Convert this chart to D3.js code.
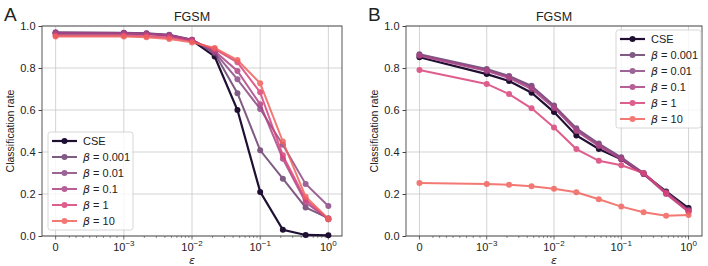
<!DOCTYPE html>
<html>
<head>
<meta charset="utf-8">
<script src="https://d3js.org/d3.v7.min.js"></script>
<style>
  body { margin: 0; background: #fff; }
  text { font-family: "Liberation Sans", Arial, sans-serif; fill: #222; }
</style>
</head>
<body>
<script>
// epsilon grid (0 then logspace 1e-3 .. 1, three per decade)
var eps = [0, 0.001, 0.00215, 0.00464, 0.01, 0.0215, 0.0464, 0.1, 0.215, 0.464, 1];
var seriesNames = ["CSE", "0.001", "0.01", "0.1", "1", "10"];
var colors = ["#1e0f33", "#6b3f6f", "#8c4a86", "#ad4485", "#d9437a", "#f0625c"];

// panel A
var rateA_cse   = [0.965, 0.965, 0.963, 0.955, 0.932, 0.855, 0.600, 0.210, 0.030, 0.005, 0.003];
var rateA_b0001 = [0.970, 0.968, 0.965, 0.958, 0.935, 0.870, 0.680, 0.408, 0.273, 0.136, 0.085];
var rateA_b001  = [0.968, 0.967, 0.964, 0.957, 0.935, 0.875, 0.746, 0.605, 0.435, 0.248, 0.143];
var rateA_b01   = [0.965, 0.964, 0.962, 0.955, 0.933, 0.880, 0.786, 0.627, 0.368, 0.160, 0.080];
var rateA_b1    = [0.955, 0.955, 0.952, 0.945, 0.928, 0.890, 0.827, 0.684, 0.384, 0.174, 0.080];
var rateA_b10   = [0.950, 0.950, 0.946, 0.938, 0.922, 0.895, 0.838, 0.727, 0.450, 0.187, 0.082];

// panel B
var rateB_cse   = [0.851, 0.771, 0.738, 0.682, 0.590, 0.479, 0.414, 0.365, 0.295, 0.212, 0.133];
var rateB_b0001 = [0.865, 0.795, 0.762, 0.715, 0.622, 0.513, 0.440, 0.375, 0.300, 0.210, 0.125];
var rateB_b001  = [0.862, 0.790, 0.758, 0.708, 0.618, 0.506, 0.433, 0.370, 0.297, 0.205, 0.120];
var rateB_b01   = [0.858, 0.786, 0.752, 0.700, 0.610, 0.500, 0.428, 0.365, 0.295, 0.200, 0.115];
var rateB_b1    = [0.790, 0.724, 0.676, 0.608, 0.517, 0.414, 0.358, 0.337, 0.300, 0.205, 0.118];
var rateB_b10   = [0.252, 0.248, 0.244, 0.237, 0.225, 0.208, 0.175, 0.140, 0.113, 0.096, 0.100];

var yTicks = [0, 0.2, 0.4, 0.6, 0.8, 1.0];
var xTicks = [0, 0.001, 0.01, 0.1, 1];
var xTickExp = [null, "\u22123", "\u22122", "\u22121", "0"];

var width = 708, height = 266;
var svg = d3.select("body").append("svg").attr("width", width).attr("height", height);

// symlog-like transform: linear on [0, 1e-3], log above
function tr(x) { return x <= 1e-3 ? x / 1e-3 : 1 + Math.log10(x / 1e-3); }

function panel(letter, left, right, data, legendPos) {
  var top = 26, bottom = 236;
  var xs = d3.scaleLinear().domain([-0.2, 4.2]).range([left, right]);
  var x = function(v) { return xs(tr(v)); };
  var y = d3.scaleLinear().domain([0, 1]).range([bottom, top]);
  var g = svg.append("g");

  // grid
  g.selectAll(".gx").data(xTicks).enter().append("line")
    .attr("x1", x).attr("x2", x).attr("y1", top).attr("y2", bottom)
    .attr("stroke", "#c8c8c8").attr("stroke-width", 0.8);
  g.selectAll(".gy").data(yTicks).enter().append("line")
    .attr("x1", left).attr("x2", right).attr("y1", y).attr("y2", y)
    .attr("stroke", "#c8c8c8").attr("stroke-width", 0.8);

  // y axis
  var yAxis = d3.axisLeft(y).tickValues(yTicks).tickFormat(d3.format(".1f")).tickSize(3.5).tickPadding(3);
  var ya = g.append("g").attr("transform", "translate(" + left + ",0)").call(yAxis);
  ya.select(".domain").remove();
  ya.selectAll("text").style("font-size", "11px").style("font-family", "Liberation Sans, Arial").attr("fill", "#222");
  ya.selectAll("line").attr("stroke", "#444");

  // x axis: minor ticks
  var minor = [];
  for (var k = 2; k < 10; k++) minor.push(k * 1e-4);
  [-3, -2, -1].forEach(function(e) {
    for (var k = 2; k < 10; k++) minor.push(k * Math.pow(10, e));
  });
  g.selectAll(".mx").data(minor).enter().append("line")
    .attr("x1", x).attr("x2", x).attr("y1", bottom).attr("y2", bottom + 2)
    .attr("stroke", "#444").attr("stroke-width", 0.6);
  g.selectAll(".tx").data(xTicks).enter().append("line")
    .attr("x1", x).attr("x2", x).attr("y1", bottom).attr("y2", bottom + 3.5)
    .attr("stroke", "#444").attr("stroke-width", 0.8);
  var lab = g.selectAll(".lx").data(xTicks).enter().append("text")
    .attr("x", x).attr("y", bottom + 14.5).attr("text-anchor", "middle")
    .style("font-size", "11px");
  lab.each(function(d, i) {
    var t = d3.select(this);
    if (xTickExp[i] === null) { t.text("0"); return; }
    t.append("tspan").text("10");
    t.append("tspan").attr("dy", -4.5).style("font-size", "8px").text(xTickExp[i]);
  });

  // spines
  g.append("rect").attr("x", left).attr("y", top).attr("width", right - left).attr("height", bottom - top)
    .attr("fill", "none").attr("stroke", "#444").attr("stroke-width", 0.9);

  // lines
  var line = d3.line().x(function(d, i) { return x(eps[i]); }).y(function(d) { return y(d); });
  data.forEach(function(s, si) {
    var op = si === 0 ? 1 : 0.85;
    var sg = g.append("g").attr("opacity", op);
    sg.append("path").datum(s).attr("d", line).attr("fill", "none")
      .attr("stroke", colors[si]).attr("stroke-width", si === 0 ? 2.2 : 2);
    sg.selectAll("circle").data(s).enter().append("circle")
      .attr("cx", function(d, i) { return x(eps[i]); }).attr("cy", y).attr("r", 3)
      .attr("fill", colors[si]);
  });

  // titles & labels
  svg.append("text").attr("x", (left + right) / 2).attr("y", 21).attr("text-anchor", "middle")
    .style("font-size", "12.5px").text("FGSM");
  svg.append("text").attr("x", left - 38).attr("y", 21).style("font-size", "19px").text(letter);
  svg.append("text").attr("transform", "translate(" + (left - 28) + "," + ((top + bottom) / 2) + ") rotate(-90)")
    .attr("text-anchor", "middle").style("font-size", "10.5px").text("Classification rate");
  svg.append("text").attr("x", (left + right) / 2).attr("y", 264).attr("text-anchor", "middle")
    .style("font-size", "11px").style("font-family", "DejaVu Sans").style("font-style", "italic").text("\u03b5");

  // legend
  var lx = legendPos[0], ly = legendPos[1];
  var lg = svg.append("g").attr("transform", "translate(" + lx + "," + ly + ")");
  lg.append("rect").attr("width", 85).attr("height", 98).attr("rx", 2.5)
    .attr("fill", "#fff").attr("fill-opacity", 0.8).attr("stroke", "#cccccc").attr("stroke-width", 0.8);
  seriesNames.forEach(function(n, i) {
    var yy = 9 + i * 16;
    var eg = lg.append("g").attr("opacity", i === 0 ? 1 : 0.85);
    eg.append("line").attr("x1", 4).attr("x2", 29).attr("y1", yy).attr("y2", yy)
      .attr("stroke", colors[i]).attr("stroke-width", i === 0 ? 2.2 : 2);
    eg.append("circle").attr("cx", 16.5).attr("cy", yy).attr("r", 3).attr("fill", colors[i]);
    var t = lg.append("text").attr("x", 35).attr("y", yy + 4).style("font-size", "11px");
    if (i === 0) t.text("CSE");
    else {
      t.append("tspan").style("font-style", "italic").style("font-family", "DejaVu Sans").text("\u03b2");
      t.append("tspan").text(" = " + n);
    }
  });
}

panel("A", 42, 342, [rateA_cse, rateA_b0001, rateA_b001, rateA_b01, rateA_b1, rateA_b10], [48, 132]);
panel("B", 406, 702, [rateB_cse, rateB_b0001, rateB_b001, rateB_b01, rateB_b1, rateB_b10], [616, 30]);
</script>
</body>
</html>
